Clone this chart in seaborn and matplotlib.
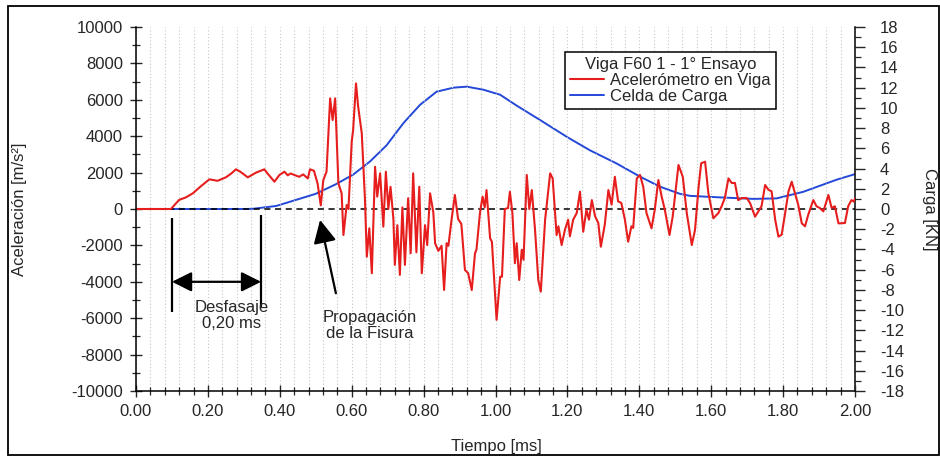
import seaborn as sns
import matplotlib.pyplot as plt
from matplotlib.patches import Rectangle
from matplotlib.ticker import MultipleLocator, FormatStrFormatter

# acelerometro en viga [m/s2]
t_acc = [0.00, 0.097, 0.12, 0.139, 0.158, 0.181, 0.204, 0.227, 0.25, 0.265, 0.278, 0.29,
         0.311, 0.334, 0.357, 0.366, 0.385, 0.399, 0.413, 0.422, 0.43, 0.454, 0.465, 0.478,
         0.484, 0.495, 0.505, 0.514, 0.521, 0.53, 0.54, 0.547, 0.554, 0.563, 0.572, 0.577,
         0.586, 0.591, 0.60, 0.604, 0.612, 0.618, 0.628, 0.637, 0.642, 0.649, 0.656, 0.665,
         0.671, 0.679, 0.688, 0.695, 0.702, 0.708, 0.716, 0.72, 0.727, 0.734, 0.741, 0.748,
         0.757, 0.764, 0.771, 0.78, 0.788, 0.795, 0.804, 0.81, 0.818, 0.827, 0.832, 0.841,
         0.85, 0.857, 0.864, 0.869, 0.878, 0.887, 0.896, 0.905, 0.915, 0.924, 0.934, 0.943,
         0.947, 0.957, 0.964, 0.97, 0.975, 0.985, 0.99, 1.003, 1.013, 1.018, 1.026, 1.035,
         1.04, 1.047, 1.054, 1.059, 1.066, 1.073, 1.078, 1.087, 1.094, 1.101, 1.11, 1.119,
         1.126, 1.138, 1.152, 1.159, 1.17, 1.175, 1.184, 1.193, 1.202, 1.207, 1.216, 1.226,
         1.235, 1.244, 1.253, 1.26, 1.268, 1.277, 1.286, 1.293, 1.304, 1.314, 1.323, 1.332,
         1.341, 1.35, 1.36, 1.369, 1.378, 1.383, 1.393, 1.402, 1.411, 1.42, 1.434, 1.443,
         1.453, 1.462, 1.471, 1.484, 1.493, 1.509, 1.521, 1.532, 1.546, 1.555, 1.565, 1.572,
         1.583, 1.592, 1.606, 1.62, 1.629, 1.638, 1.648, 1.657, 1.666, 1.675, 1.685, 1.699,
         1.708, 1.722, 1.731, 1.74, 1.75, 1.759, 1.768, 1.778, 1.787, 1.796, 1.805, 1.815,
         1.824, 1.833, 1.842, 1.852, 1.861, 1.87, 1.884, 1.893, 1.902, 1.912, 1.926, 1.935,
         1.944, 1.954, 1.972, 1.981, 1.99, 1.997, 2.00]
acc = [0, 0, 500, 640, 860, 1260, 1630, 1550, 1740, 1950, 2180, 2050,
       1740, 2000, 2180, 1950, 1500, 1870, 2050, 1850, 1950, 1770, 1900, 1680,
       2180, 2100, 1410, 200, 1590, 2050, 6080, 4890, 6080, 1410, 860, -1430,
       220, 0, 3700, 4340, 6900, 5620, 4160, 490, -2620, -1060, -3530, 2320,
       680, 1960, -970, 2050, 0, 1220, -550, -3070, -890, -3620, 90, -3070,
       590, -2430, 1960, -2380, 1220, -3530, -890, -1980, 860, -180, -1880, -2300,
       -2020, -4450, -1880, -2020, -550, 770, -550, -820, -3350, -3530, -4450, -2430,
       -2240, -180, 680, 90, 1040, -1610, -1800, -6090, -3720, -3720, 0, 50,
       950, -220, -2980, -1880, -3900, -2240, -2790, 1870, 0, 1040, -1150, -3900,
       -4540, -590, 1960, 1680, -1430, -950, -1980, -1150, -590, -1500, -590, -220,
       950, -1250, -40, -590, 490, -400, -770, -2070, -860, 1040, 240, 1770,
       420, 330, -590, -1800, -950, -1040, 1680, 1870, 1220, -220, -1060, -40,
       1590, 700, -40, -1430, -400, 2420, 1770, -220, -1980, -1150, 1220, 2510,
       2600, 880, -510, -220, 150, 610, 1680, 1430, 1430, 490, 600, 600,
       330, -420, -130, 150, 1320, 1060, 970, -590, -1520, -1410, -310, 970,
       1500, 880, 240, -790, -950, -310, 490, 150, 55, -130, 770, 55,
       150, -790, -770, 150, 490, 400, 590]

# celda de carga [kN]
t_load = [0.00, 0.30, 0.325, 0.39, 0.445, 0.50, 0.556, 0.604, 0.651, 0.697, 0.744, 0.79,
          0.836, 0.883, 0.92, 0.966, 1.013, 1.06, 1.124, 1.20, 1.263, 1.337, 1.402, 1.458,
          1.513, 1.541, 1.624, 1.717, 1.782, 1.856, 1.949, 2.00]
load = [0, 0, 0.02, 0.3, 0.9, 1.5, 2.45, 3.4, 4.7, 6.3, 8.5, 10.3,
        11.6, 12.0, 12.1, 11.8, 11.3, 10.2, 8.8, 7.1, 5.8, 4.5, 3.2, 2.2,
        1.5, 1.3, 1.15, 1.0, 1.05, 1.7, 2.9, 3.45]

sns.set_style('ticks')
plt.rcParams['font.family'] = ['Liberation Sans', 'DejaVu Sans']
plt.rcParams['axes.unicode_minus'] = False

fig = plt.figure(figsize=(9.4, 4.58), dpi=100)
ax = fig.add_axes([136 / 940, 67 / 458, 719 / 940, 364 / 458])
ax2 = ax.twinx()
ax.set_zorder(ax2.get_zorder() + 1)
ax.patch.set_visible(False)

sns.lineplot(x=t_load, y=load, ax=ax2, color='#2448d8', lw=1.4, estimator=None,
             label='Celda de Carga', legend=False)
sns.lineplot(x=t_acc, y=acc, ax=ax, color='#e61e1e', lw=1.5, estimator=None,
             label='Acelerómetro en Viga', legend=False)
ax.axhline(0, color='black', lw=1.1, ls=(0, (4, 3)), zorder=1)

ax.set_xlim(0, 2)
ax.set_ylim(-10000, 10000)
ax2.set_ylim(-18, 18)
ax.xaxis.set_major_locator(MultipleLocator(0.2))
ax.xaxis.set_minor_locator(MultipleLocator(0.04))
ax.xaxis.set_major_formatter(FormatStrFormatter('%.2f'))
ax.yaxis.set_major_locator(MultipleLocator(2000))
ax.yaxis.set_minor_locator(MultipleLocator(1000))
ax2.yaxis.set_major_locator(MultipleLocator(2))
ax2.yaxis.set_minor_locator(MultipleLocator(1))
ax.grid(axis='x', which='both', color='#c4c4c4', ls=(0, (1, 2)), lw=0.8)

for s in ['top', 'right']:
    ax.spines[s].set_visible(False)
for s in ['top', 'left', 'bottom']:
    ax2.spines[s].set_visible(False)
for a in (ax, ax2):
    for s in a.spines.values():
        s.set_linewidth(1.1)
        s.set_color('black')

ax.tick_params(which='major', direction='inout', length=8.6, width=1.0, labelsize=12, pad=5)
ax.tick_params(which='minor', direction='inout', length=5.5, width=0.9)
ax2.tick_params(which='major', direction='out', length=7, width=1.0, labelsize=12, pad=11)
ax2.tick_params(which='minor', direction='out', length=4.3, width=0.9)
ax.set_xlabel('')
ax.set_ylabel('')
ax2.set_ylabel('')

fig.text(20 / 940, 0.5437, 'Aceleración [m/s²]', rotation=90, ha='center', va='center', fontsize=12)
fig.text(929 / 940, 0.5437, 'Carga [KN]', rotation=270, ha='center', va='center', fontsize=12)
fig.text(496 / 940, 11 / 458, 'Tiempo [ms]', ha='center', va='center', fontsize=12)

# desfasaje
ax.vlines([0.10, 0.348], [-5650, -5360], [-490, -330], color='black', lw=1.6)
ax.annotate('', xy=(0.348, -4000), xytext=(0.10, -4000),
            arrowprops=dict(arrowstyle='<|-|>,head_length=0.6,head_width=0.3', color='black',
                            lw=1.6, shrinkA=0, shrinkB=0, mutation_scale=20))
ax.text(0.266, -5870, 'Desfasaje\n0,20 ms', ha='center', va='center', fontsize=12,
        linespacing=1.1)

# propagacion de la fisura
ax.annotate('', xy=(0.512, -600), xytext=(0.556, -4630),
            arrowprops=dict(arrowstyle='-|>,head_length=0.7,head_width=0.35', color='black',
                            lw=1.6, shrinkA=0, shrinkB=0, mutation_scale=20))
ax.text(0.651, -6420, 'Propagación\nde la Fisura', ha='center', va='center', fontsize=12,
        linespacing=1.1)

h1, l1 = ax.get_legend_handles_labels()
h2, l2 = ax2.get_legend_handles_labels()
leg = ax.legend(h1 + h2, l1 + l2, title='Viga F60 1 - 1° Ensayo', loc='upper left',
                bbox_to_anchor=(0.597, 0.931), fontsize=12, title_fontsize=12,
                frameon=True, fancybox=False, edgecolor='black', framealpha=1,
                borderpad=0.3, labelspacing=0.05, handlelength=2.0, handletextpad=0.4,
                borderaxespad=0)
leg.get_frame().set_linewidth(1.1)

fig.patches.append(Rectangle((8 / 940, 3 / 458), 931 / 940, 449 / 458, transform=fig.transFigure,
                             fill=False, edgecolor='black', lw=1.3))

fig.savefig('out.png', dpi=100)
